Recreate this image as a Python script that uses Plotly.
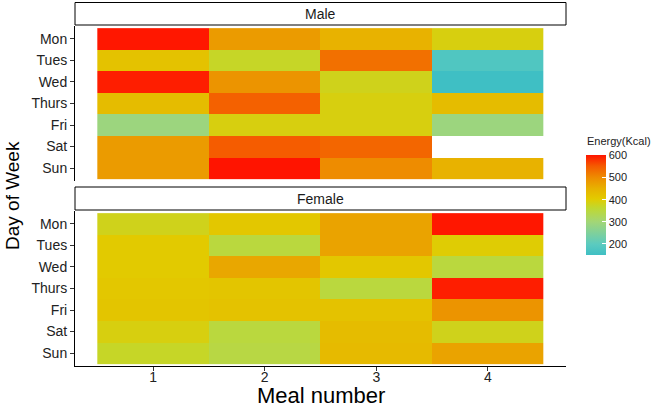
import plotly.graph_objects as go

days = ["Mon", "Tues", "Wed", "Thurs", "Fri", "Sat", "Sun"]
meals = [1, 2, 3, 4]
male_energy = [
    [600, 480, 450, 390],
    [420, 370, 530, 180],
    [595, 490, 380, 150],
    [430, 545, 390, 430],
    [290, 390, 390, 290],
    [480, 550, 540, None],
    [480, 602, 500, 450],
]
female_energy = [
    [380, 410, 470, 600],
    [405, 350, 470, 400],
    [405, 465, 410, 350],
    [410, 415, 350, 595],
    [415, 420, 420, 490],
    [390, 350, 430, 380],
    [370, 345, 435, 470],
]
panels = ["Male", "Female"]
colorbar_ticks = [200, 300, 400, 500, 600]

W, H = 662, 407
L, R, T, B = 75, 566, 26, 366  # plot area in pixels
FONT = "Liberation Sans, Arial, sans-serif"


def px_x(x):
    return (x - L) / (R - L)


def px_y(y):
    return (B - y) / (B - T)


colorscale = [
    [0.00, "#3fbfc4"],
    [0.11, "#5ccbbf"],
    [0.33, "#a2d677"],
    [0.47, "#c0d830"],
    [0.56, "#e2cb00"],
    [0.67, "#e8b000"],
    [0.78, "#ee8a00"],
    [0.89, "#f55a00"],
    [1.00, "#ff1400"],
]

fig = go.Figure()
fig.add_trace(go.Heatmap(x=meals, y=days, z=male_energy, xaxis="x", yaxis="y",
                         coloraxis="coloraxis", name=panels[0]))
fig.add_trace(go.Heatmap(x=meals, y=days, z=female_energy, xaxis="x2", yaxis="y2",
                         coloraxis="coloraxis", name=panels[1]))

xdom = [0, 1]
male_dom = [px_y(181), 1]
female_dom = [0, px_y(211)]

yaxis_common = dict(
    type="category", categoryorder="array", categoryarray=days,
    range=[6.6, -0.6], showgrid=False, zeroline=False, automargin=False,
    showline=True, linecolor="black", linewidth=1,
    ticks="outside", ticklen=4, tickcolor="#333333", tickwidth=1,
    tickfont=dict(family=FONT, size=14, color="#222222"),
)

fig.update_layout(
    width=W, height=H,
    margin=dict(l=L, r=W - R, t=T, b=H - B, autoexpand=False),
    paper_bgcolor="white", plot_bgcolor="white",
    showlegend=False,
    xaxis=dict(domain=xdom, anchor="y", range=[0.3, 4.7], showgrid=False,
               zeroline=False, showticklabels=False, showline=False, ticks="",
               automargin=False),
    yaxis=dict(domain=male_dom, anchor="x", **yaxis_common),
    xaxis2=dict(domain=xdom, anchor="y2", range=[0.3, 4.7], showgrid=False,
                zeroline=False, tickvals=meals, ticktext=[str(m) for m in meals],
                showline=True, linecolor="black", linewidth=1, automargin=False,
                ticks="outside", ticklen=4, tickcolor="#333333",
                ticklabelstandoff=-6,
                tickfont=dict(family=FONT, size=14, color="#222222")),
    yaxis2=dict(domain=female_dom, anchor="x2", **yaxis_common),
    coloraxis=dict(
        cmin=150, cmax=602, colorscale=colorscale,
        colorbar=dict(
            x=px_x(586), xanchor="left", xpad=0,
            y=px_y(255), yanchor="bottom", ypad=0,
            lenmode="pixels", len=100, thicknessmode="pixels", thickness=20,
            outlinewidth=0, tickvals=colorbar_ticks,
            ticks="inside", ticklen=4, tickcolor="white",
            tickfont=dict(family=FONT, size=11, color="#222222"),
        ),
    ),
)

strips = [(2.5, 25, panels[0]), (187, 210, panels[1])]
for top, bottom, label in strips:
    fig.add_shape(type="rect", xref="paper", yref="paper",
                  x0=0, x1=1, y0=px_y(bottom), y1=px_y(top),
                  line=dict(color="black", width=1), fillcolor="white")
    fig.add_annotation(text=label, xref="paper", yref="paper",
                       x=0.5, y=px_y((top + bottom) / 2),
                       showarrow=False, xanchor="center", yanchor="middle",
                       font=dict(family=FONT, size=14, color="#1a1a1a"))

fig.add_annotation(text="Energy(Kcal)", xref="paper", yref="paper",
                   x=px_x(585), y=px_y(141), showarrow=False,
                   xanchor="left", yanchor="middle",
                   font=dict(family=FONT, size=11, color="#222222"))
fig.add_annotation(text="Day of Week", xref="paper", yref="paper",
                   x=px_x(12), y=px_y(195), textangle=-90, showarrow=False,
                   xanchor="center", yanchor="middle",
                   font=dict(family=FONT, size=19, color="black"))
fig.add_annotation(text="Meal number", xref="paper", yref="paper",
                   x=0.5, y=px_y(396), showarrow=False,
                   xanchor="center", yanchor="middle",
                   font=dict(family=FONT, size=22, color="black"))

fig.write_html("out.html", config={"displayModeBar": False},
               post_script="document.body.style.margin='0';document.body.style.overflow='hidden';")
